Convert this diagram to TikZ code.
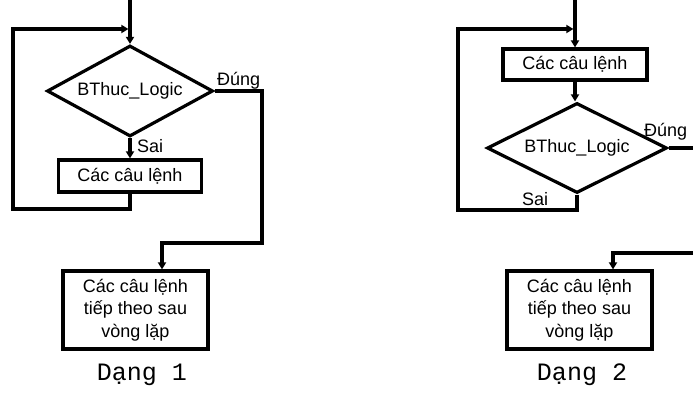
\documentclass[tikz,border=0pt]{standalone}
\usepackage{fontspec}
\setmainfont{Liberation Sans}
\newfontfamily\monofont{Liberation Mono}
\usetikzlibrary{shapes.geometric,arrows.meta}

\tikzset{
  khoi/.style={draw, line width=3.2pt, inner sep=0pt, align=center},
  dk/.style={draw, diamond, aspect=2, line width=3.2pt, inner sep=0pt},
  nhan/.style={inner sep=0pt, anchor=base west},
  ten/.style={inner sep=0pt, anchor=base, font=\monofont\fontsize{25}{28}\selectfont},
  mui/.style={line width=3.2pt, -{Triangle[length=7pt,width=8pt]}}
}

\begin{document}
\begin{tikzpicture}[x=1pt,y=-1pt]
  \fontsize{18}{22.5}\selectfont
  \useasboundingbox (0,0) rectangle (693,403);
  \clip (0,0) rectangle (693,403);

  % Dang 1
  \coordinate (vao1) at (130,0);
  \coordinate (noi1) at (130,29);
  \node[dk, minimum width=166pt, minimum height=91pt] (bt1) at (130,91) {BThuc\_Logic};
  \node[khoi, minimum width=143pt, minimum height=32pt] (lenh1) at (130,176) {Các câu lệnh};
  \node[khoi, minimum width=145pt, minimum height=78pt] (sau1) at (135.5,310) {Các câu lệnh\\tiếp theo sau\\vòng lặp};
  \node[nhan] (dung1) at (217,86) {Đúng};
  \node[nhan] (sai1) at (137,153) {Sai};
  \node[ten] (ten1) at (142,380) {Dạng 1};

  \draw[mui] (vao1) -- (bt1.north);
  \draw[mui] (bt1.south) -- (lenh1.north);
  \draw[mui, shorten >=1.6pt] (lenh1.south) |- (13,209) |- (noi1);
  \draw[mui] (bt1.east) -| (262,243) -| ([xshift=26.5pt]sau1.north);

  % Dang 2
  \coordinate (vao2) at (575,0);
  \coordinate (noi2) at (575,29);
  \node[khoi, minimum width=144pt, minimum height=31pt] (lenh2) at (575,64.5) {Các câu lệnh};
  \node[dk, minimum width=180pt, minimum height=90pt] (bt2) at (577,148) {BThuc\_Logic};
  \node[khoi, minimum width=145pt, minimum height=78pt] (sau2) at (579.5,310) {Các câu lệnh\\tiếp theo sau\\vòng lặp};
  \node[nhan] (dung2) at (644,137) {Đúng};
  \node[nhan] (sai2) at (522,206) {Sai};
  \node[ten] (ten2) at (582,380) {Dạng 2};

  \draw[mui] (vao2) -- (lenh2.north);
  \draw[mui] (lenh2.south) -- (bt2.north -| lenh2.south);
  \draw[mui, shorten >=1.6pt] (bt2.south) |- (458,210) |- (noi2);
  \draw[mui] (bt2.east) -| (710,253) -| ([xshift=33.5pt]sau2.north);
\end{tikzpicture}
\end{document}
